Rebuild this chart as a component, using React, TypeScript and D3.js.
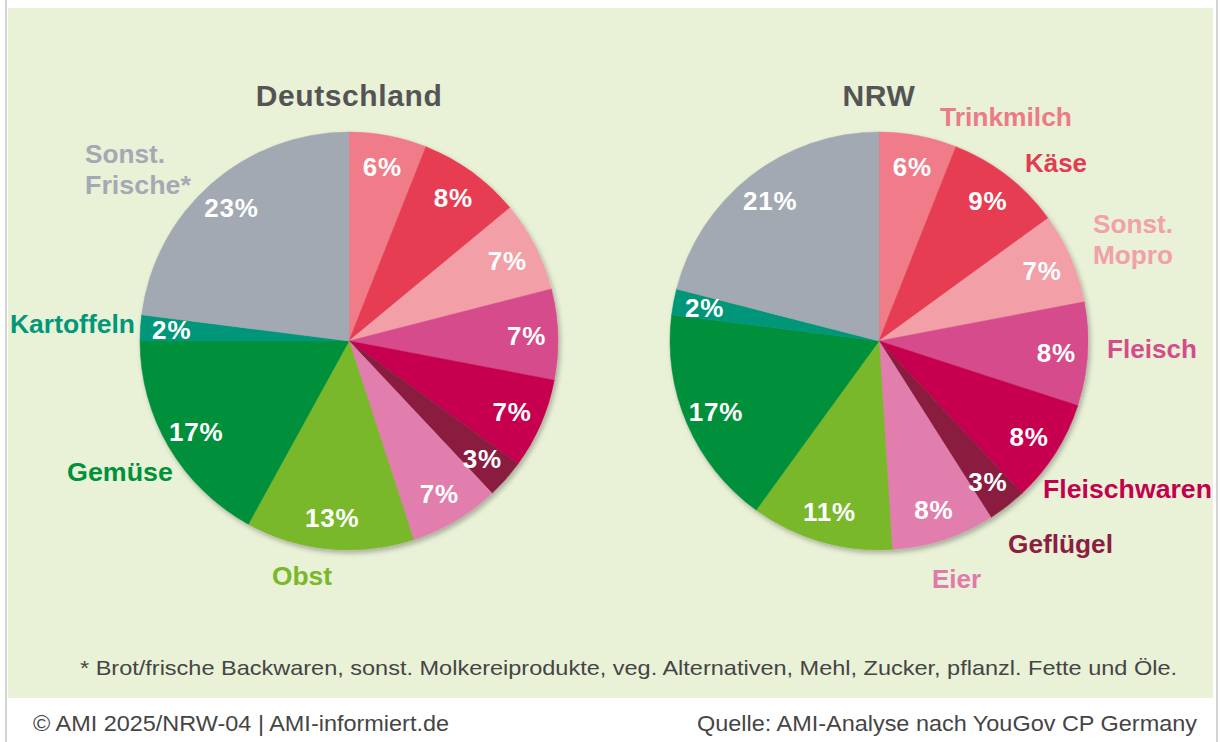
import React from "react";
import * as d3 from "d3";

// ---------- data ----------
const categories = [
  "Trinkmilch",
  "Käse",
  "Sonst. Mopro",
  "Fleisch",
  "Fleischwaren",
  "Geflügel",
  "Eier",
  "Obst",
  "Gemüse",
  "Kartoffeln",
  "Sonst. Frische*",
];
const deutschlandValues = [6, 8, 7, 7, 7, 3, 7, 13, 17, 2, 23];
const nrwValues = [6, 9, 7, 8, 8, 3, 8, 11, 17, 2, 21];
const colors = [
  "#ef7b88",
  "#e63d53",
  "#f29fa8",
  "#d64c8b",
  "#c6004f",
  "#8a1f41",
  "#e17ead",
  "#79b829",
  "#00903a",
  "#009679",
  "#a2a9b2",
];
const titles = ["Deutschland", "NRW"];
const footnote =
  "* Brot/frische Backwaren, sonst. Molkereiprodukte, veg. Alternativen, Mehl, Zucker, pflanzl. Fette und Öle.";
const footerLeft = "© AMI 2025/NRW-04 | AMI-informiert.de";
const footerRight = "Quelle: AMI-Analyse nach YouGov CP Germany";

// ---------- layout (annotation placement, not data) ----------
const W = 1220;
const H = 742;
const R = 209;
const CY = 341;
const centers = [349, 879];
const FONT = "'Liberation Sans', Arial, Helvetica, sans-serif";

type Lbl = { lines: string[]; cat: number; x: number; y: number; w: number[] };
const outerLabelsDE: Lbl[] = [
  { lines: ["Sonst.", "Frische*"], cat: 10, x: 85, y: 163, w: [80, 106] },
  { lines: ["Kartoffeln"], cat: 9, x: 10, y: 333, w: [125] },
  { lines: ["Gemüse"], cat: 8, x: 67, y: 481, w: [106] },
  { lines: ["Obst"], cat: 7, x: 272, y: 585, w: [60] },
];
const outerLabelsNRW: Lbl[] = [
  { lines: ["Trinkmilch"], cat: 0, x: 940, y: 126, w: [132] },
  { lines: ["Käse"], cat: 1, x: 1025, y: 172, w: [62] },
  { lines: ["Sonst.", "Mopro"], cat: 2, x: 1093, y: 233, w: [80, 80] },
  { lines: ["Fleisch"], cat: 3, x: 1107, y: 358, w: [90] },
  { lines: ["Fleischwaren"], cat: 4, x: 1043, y: 498, w: [169] },
  { lines: ["Geflügel"], cat: 5, x: 1008, y: 553, w: [105] },
  { lines: ["Eier"], cat: 6, x: 932, y: 588, w: [49] },
];
const labelColors = [
  "#ec7a87",
  "#e33b52",
  "#f2a0a9",
  "#d54c8a",
  "#c4004e",
  "#8a1f41",
  "#e07aab",
  "#79b829",
  "#00913b",
  "#00977a",
  "#a3aab4",
];

function Pie({ values, cx, title }: { values: number[]; cx: number; title: string }) {
  const pie = d3
    .pie<number>()
    .sort(null)
    .value((d) => d);
  const arcs = pie(values);
  const arc = d3.arc<d3.PieArcDatum<number>>().innerRadius(0).outerRadius(R);
  const labelArc = d3
    .arc<d3.PieArcDatum<number>>()
    .innerRadius(R * 0.85)
    .outerRadius(R * 0.85);
  return (
    <g>
      <text
        x={cx}
        y={106}
        textAnchor="middle"
        fontFamily={FONT}
        fontWeight="bold"
        fontSize={30}
        fill="#545454"
        style={{ letterSpacing: "0.6px" }}
      >
        {title}
      </text>
      <g transform={`translate(${cx},${CY})`}>
        <g filter="url(#shadow)">
          {arcs.map((a, i) => (
            <path key={i} d={arc(a) || ""} fill={colors[i]} stroke={colors[i]} strokeWidth={0.5} />
          ))}
        </g>
        {arcs.map((a, i) => {
          const [x, y] = labelArc.centroid(a);
          return (
            <text
              key={"t" + i}
              x={x}
              y={y}
              dy="0.36em"
              textAnchor="middle"
              fontFamily={FONT}
              fontWeight="bold"
              fontSize={26}
              fill="#ffffff"
              style={{ letterSpacing: "0.8px" }}
            >
              {values[i]}%
            </text>
          );
        })}
      </g>
    </g>
  );
}

function OuterLabels({ labels }: { labels: Lbl[] }) {
  return (
    <g>
      {labels.map((l, i) => (
        <g key={i}>
          {l.lines.map((ln, j) => (
            <text
              key={j}
              x={l.x}
              y={l.y + j * 31}
              fontFamily={FONT}
              fontWeight="bold"
              fontSize={25}
              fill={labelColors[l.cat]}
              textLength={l.w[j]}
              lengthAdjust="spacingAndGlyphs"
            >
              {ln}
            </text>
          ))}
        </g>
      ))}
    </g>
  );
}

export default function App() {
  return (
    <svg
      width={W}
      height={H}
      viewBox={`0 0 ${W} ${H}`}
      style={{ position: "absolute", left: 0, top: 0, display: "block" }}
    >
      <defs>
        <filter id="shadow" x="-10%" y="-10%" width="125%" height="125%">
          <feDropShadow dx="2" dy="3" stdDeviation="2.5" floodColor="#000" floodOpacity="0.28" />
        </filter>
      </defs>
      <rect x={0} y={0} width={W} height={H} fill="#ffffff" />
      <rect x={8} y={8} width={1205} height={690} fill="#e9f1d7" />
      <rect x={5} y={0} width={2} height={H} fill="#d2d2d2" />
      <rect x={1216} y={0} width={2} height={H} fill="#d2d2d2" />

      <Pie values={deutschlandValues} cx={centers[0]} title={titles[0]} />
      <Pie values={nrwValues} cx={centers[1]} title={titles[1]} />
      <OuterLabels labels={outerLabelsDE} />
      <OuterLabels labels={outerLabelsNRW} />

      <text
        x={80}
        y={675}
        fontFamily={FONT}
        fontSize={21}
        fill="#454545"
        textLength={1097}
        lengthAdjust="spacingAndGlyphs"
      >
        {footnote}
      </text>
      <text
        x={33}
        y={731}
        fontFamily={FONT}
        fontSize={22}
        fill="#454545"
        textLength={416}
        lengthAdjust="spacingAndGlyphs"
      >
        {footerLeft}
      </text>
      <text
        x={697}
        y={731}
        fontFamily={FONT}
        fontSize={22}
        fill="#454545"
        textLength={500}
        lengthAdjust="spacingAndGlyphs"
      >
        {footerRight}
      </text>
    </svg>
  );
}
